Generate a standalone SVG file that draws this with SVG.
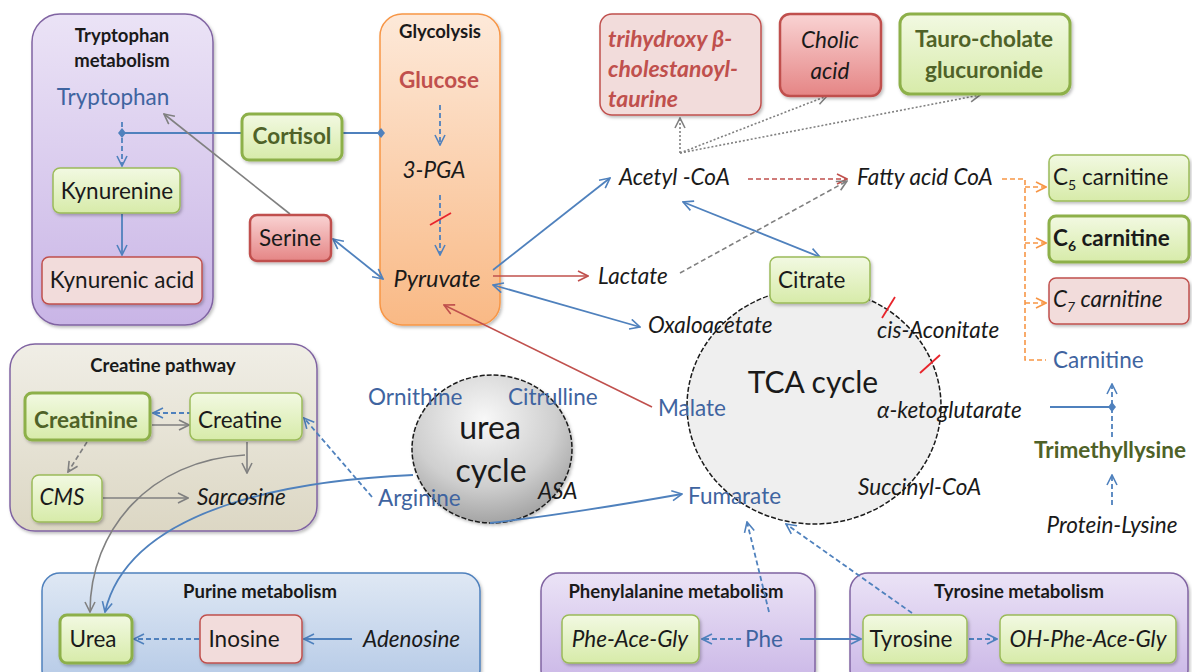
<svg xmlns="http://www.w3.org/2000/svg" width="1192" height="672" viewBox="0 0 1192 672">
<defs>
<linearGradient id="gGreen" x1="0" y1="0" x2="0" y2="1"><stop offset="0" stop-color="#f2f9e2"/><stop offset="1" stop-color="#d7eba9"/></linearGradient>
<linearGradient id="gRed" x1="0" y1="0" x2="0" y2="1"><stop offset="0" stop-color="#f9d3d3"/><stop offset="1" stop-color="#e58585"/></linearGradient>
<linearGradient id="gPurple" x1="0" y1="0" x2="0" y2="1"><stop offset="0" stop-color="#ebe3f6"/><stop offset="1" stop-color="#c9b5e6"/></linearGradient>
<linearGradient id="gOrange" x1="0" y1="0" x2="0" y2="1"><stop offset="0" stop-color="#fde9d9"/><stop offset="1" stop-color="#f9b985"/></linearGradient>
<linearGradient id="gBeige" x1="0" y1="0" x2="0" y2="1"><stop offset="0" stop-color="#f0eee6"/><stop offset="1" stop-color="#dcd7c4"/></linearGradient>
<linearGradient id="gBlue" x1="0" y1="0" x2="0" y2="1"><stop offset="0" stop-color="#dfe8f4"/><stop offset="1" stop-color="#b4c9e6"/></linearGradient>
<radialGradient id="gUrea" cx="0.45" cy="0.3" r="0.75"><stop offset="0" stop-color="#f8f8f8"/><stop offset="0.6" stop-color="#cfcfcf"/><stop offset="1" stop-color="#9c9c9c"/></radialGradient>
<filter id="sh" x="-20%" y="-20%" width="140%" height="140%"><feDropShadow dx="1.5" dy="2" stdDeviation="1.5" flood-color="#000" flood-opacity="0.25"/></filter>
<marker id="aB" viewBox="0 0 12 12" refX="11" refY="6" markerWidth="12" markerHeight="12" markerUnits="userSpaceOnUse" orient="auto-start-reverse"><path d="M1,1 L11,6 L1,11" fill="none" stroke="#4f81bd" stroke-width="1.6"/></marker>
<marker id="aG" viewBox="0 0 12 12" refX="11" refY="6" markerWidth="12" markerHeight="12" markerUnits="userSpaceOnUse" orient="auto-start-reverse"><path d="M1,1 L11,6 L1,11" fill="none" stroke="#808080" stroke-width="1.6"/></marker>
<marker id="aR" viewBox="0 0 12 12" refX="11" refY="6" markerWidth="12" markerHeight="12" markerUnits="userSpaceOnUse" orient="auto-start-reverse"><path d="M1,1 L11,6 L1,11" fill="none" stroke="#c0504d" stroke-width="1.6"/></marker>
<marker id="aO" viewBox="0 0 12 12" refX="11" refY="6" markerWidth="12" markerHeight="12" markerUnits="userSpaceOnUse" orient="auto-start-reverse"><path d="M1,1 L11,6 L1,11" fill="none" stroke="#f79646" stroke-width="1.6"/></marker>
</defs>
<style>
text{font-family:Lato,"Liberation Sans",sans-serif;font-size:22.5px;fill:#1a1a1a}
.m{text-anchor:middle}
.it{font-style:italic}
.b{font-weight:bold}
.bl{fill:#3f64a0}
.gt{fill:#4f6228;font-weight:bold}
.rt{fill:#c0504d}
.ttl{font-size:18.5px;font-weight:bold}
.grn{fill:url(#gGreen);stroke:#9bbb59;stroke-width:1.5;filter:url(#sh)}
.grn2{fill:url(#gGreen);stroke:#8db04a;stroke-width:3;filter:url(#sh)}
.pnk{fill:#f2dcdb;stroke:#c0504d;stroke-width:1.5;filter:url(#sh)}
.red{fill:url(#gRed);stroke:#c0504d;stroke-width:2.5;filter:url(#sh)}
.cb{stroke:#4f81bd;stroke-width:1.8;fill:none}
.cg{stroke:#808080;stroke-width:1.6;fill:none}
.cr{stroke:#c0504d;stroke-width:1.6;fill:none}
.co{stroke:#f79646;stroke-width:1.6;fill:none}
.d{stroke-dasharray:5 3}
.dt{stroke-dasharray:2 2}
.slash{stroke:#e8242b;stroke-width:1.8}
.dia{fill:#4f81bd}
</style>

<!-- pathway containers -->
<g id="tryptophan-metabolism">
<rect x="32" y="14" width="181" height="311" rx="28" fill="url(#gPurple)" stroke="#8064a2" stroke-width="1.5" filter="url(#sh)"/>
<text class="ttl m" x="122" y="42">Tryptophan</text>
<text class="ttl m" x="122" y="67">metabolism</text>
</g>
<g id="glycolysis">
<rect x="380" y="14" width="120" height="311" rx="22" fill="url(#gOrange)" stroke="#f79646" stroke-width="1.5" filter="url(#sh)"/>
<text class="ttl m" x="440" y="38">Glycolysis</text>
</g>
<g id="creatine-pathway">
<rect x="10" y="344" width="307" height="187" rx="25" fill="url(#gBeige)" stroke="#8064a2" stroke-width="1.5" filter="url(#sh)"/>
<text class="ttl m" x="163" y="372">Creatine pathway</text>
</g>
<g id="purine-metabolism">
<rect x="42" y="573" width="438" height="115" rx="18" fill="url(#gBlue)" stroke="#4f81bd" stroke-width="1.5" filter="url(#sh)"/>
<text class="ttl m" x="260" y="598">Purine metabolism</text>
</g>
<g id="phenylalanine-metabolism">
<rect x="541" y="573" width="274" height="115" rx="18" fill="url(#gPurple)" stroke="#8064a2" stroke-width="1.5" filter="url(#sh)"/>
<text class="ttl m" x="676" y="598">Phenylalanine metabolism</text>
</g>
<g id="tyrosine-metabolism">
<rect x="850" y="573" width="338" height="115" rx="18" fill="url(#gPurple)" stroke="#8064a2" stroke-width="1.5" filter="url(#sh)"/>
<text class="ttl m" x="1019" y="598">Tyrosine metabolism</text>
</g>

<!-- cycles -->
<g id="tca-cycle">
<ellipse cx="814" cy="406" rx="127" ry="118" fill="#efefef" stroke="#1a1a1a" stroke-width="1.5" stroke-dasharray="5 2"/>
<text class="m" x="813" y="393" style="font-size:30px">TCA cycle</text>
</g>
<g id="urea-cycle">
<ellipse cx="492" cy="449" rx="80" ry="74" fill="url(#gUrea)" stroke="#1a1a1a" stroke-width="1.5" stroke-dasharray="5 2" filter="url(#sh)"/>
<text class="m" x="490" y="439" style="font-size:32px">urea</text>
<text class="m" x="491" y="482" style="font-size:32px">cycle</text>
</g>

<!-- connectors -->
<g id="connectors">
<line class="cb d" x1="122" y1="122" x2="122" y2="166" marker-end="url(#aB)"/>
<line class="cb" x1="242" y1="133" x2="122" y2="133"/>
<polygon class="dia" points="122,128 126,133 122,138 118,133"/>
<line class="cb" x1="343" y1="133" x2="381" y2="133"/>
<polygon class="dia" points="381,128 385,133 381,138 377,133"/>
<line class="cb" x1="122" y1="214" x2="122" y2="255" marker-end="url(#aB)"/>
<line class="cg" x1="290" y1="214" x2="164" y2="114" marker-end="url(#aG)"/>
<line class="cb" x1="333" y1="239" x2="383" y2="279" marker-start="url(#aB)" marker-end="url(#aB)"/>
<line class="cb d" x1="440" y1="105" x2="440" y2="145" marker-end="url(#aB)"/>
<line class="cb d" x1="440" y1="195" x2="440" y2="255" marker-end="url(#aB)"/>
<line class="slash" x1="430" y1="225" x2="451" y2="213"/>
<line class="cb" x1="493" y1="270" x2="610" y2="178" marker-end="url(#aB)"/>
<line class="cr" x1="493" y1="276" x2="588" y2="276" marker-end="url(#aR)"/>
<line class="cb" x1="493" y1="285" x2="640" y2="327" marker-start="url(#aB)" marker-end="url(#aB)"/>
<line class="cr" x1="652" y1="407" x2="444" y2="305" marker-end="url(#aR)"/>
<line class="cb" x1="683" y1="202" x2="820" y2="257" marker-start="url(#aB)" marker-end="url(#aB)"/>
<line class="cr d" x1="748" y1="179" x2="847" y2="179" marker-end="url(#aR)"/>
<line class="cg d" x1="680" y1="273" x2="847" y2="181" marker-end="url(#aG)"/>
<line class="cg dt" x1="680" y1="153" x2="680" y2="118" marker-end="url(#aG)"/>
<line class="cg dt" x1="680" y1="153" x2="827" y2="96" marker-end="url(#aG)"/>
<line class="cg dt" x1="680" y1="153" x2="980" y2="95" marker-end="url(#aG)"/>
<path class="co d" d="M1002,179 H1025 V360 H1046"/>
<line class="co d" x1="1025" y1="187" x2="1046" y2="187" marker-end="url(#aO)"/>
<line class="co d" x1="1025" y1="243" x2="1046" y2="243" marker-end="url(#aO)"/>
<line class="co d" x1="1025" y1="303" x2="1046" y2="303" marker-end="url(#aO)"/>
<line class="cb" x1="1050" y1="407" x2="1112" y2="407"/>
<line class="cb d" x1="1112" y1="437" x2="1112" y2="384" marker-end="url(#aB)"/>
<polygon class="dia" points="1112,402 1116,407 1112,412 1108,407"/>
<line class="cb d" x1="1112" y1="505" x2="1112" y2="475" marker-end="url(#aB)"/>
<line class="slash" x1="882" y1="318" x2="895" y2="297"/>
<line class="slash" x1="920" y1="373" x2="940" y2="355"/>
<line class="cb d" x1="192" y1="413" x2="153" y2="413" marker-end="url(#aB)"/>
<line class="cg" x1="152" y1="425" x2="189" y2="425" marker-end="url(#aG)"/>
<line class="cg d" x1="87" y1="442" x2="68" y2="472" marker-end="url(#aG)"/>
<line class="cg" x1="103" y1="498" x2="188" y2="498" marker-end="url(#aG)"/>
<line class="cg" x1="247" y1="442" x2="247" y2="473" marker-end="url(#aG)"/>
<line class="cb d" x1="372" y1="497" x2="304" y2="418" marker-end="url(#aB)"/>
<path class="cg" d="M245,455 C150,460 90,530 90,612" marker-end="url(#aG)"/>
<path class="cb" d="M413,475 C300,480 130,505 105,612" marker-end="url(#aB)"/>
<path class="cb" d="M490,523 C560,515 620,505 682,494" marker-end="url(#aB)"/>
<line class="cb" x1="352" y1="639" x2="304" y2="639" marker-end="url(#aB)"/>
<line class="cb d" x1="199" y1="639" x2="134" y2="639" marker-end="url(#aB)"/>
<line class="cb d" x1="741" y1="639" x2="702" y2="639" marker-end="url(#aB)"/>
<line class="cb" x1="800" y1="639" x2="861" y2="639" marker-end="url(#aB)"/>
<line class="cb d" x1="969" y1="639" x2="997" y2="639" marker-end="url(#aB)"/>
<line class="cb d" x1="769" y1="612" x2="747" y2="522" marker-end="url(#aB)"/>
<line class="cb d" x1="912" y1="613" x2="786" y2="524" marker-end="url(#aB)"/>
</g>

<!-- nodes -->
<g id="tryptophan"><text class="m bl" x="113" y="105">Tryptophan</text></g>
<g id="kynurenine"><rect class="grn" x="53" y="168" width="127" height="45" rx="7"/><text class="m" x="117" y="199">Kynurenine</text></g>
<g id="kynurenic-acid"><rect class="pnk" x="42" y="257" width="160" height="47" rx="7"/><text class="m" x="122" y="288">Kynurenic acid</text></g>
<g id="cortisol"><rect class="grn2" x="242" y="114" width="100" height="46" rx="7"/><text class="m gt" x="292" y="144">Cortisol</text></g>
<g id="serine"><rect class="red" x="250" y="215" width="81" height="46" rx="7"/><text class="m" x="290" y="246">Serine</text></g>
<g id="glucose"><text class="m b rt" x="439" y="88">Glucose</text></g>
<g id="pga"><text class="m it" x="434" y="178">3-PGA</text></g>
<g id="pyruvate"><text class="m it" x="437" y="287" style="font-size:23.5px">Pyruvate</text></g>
<g id="trihydroxy"><rect class="pnk" x="600" y="14" width="161" height="101" rx="12"/>
<text class="it b rt" x="608" y="47" style="font-size:23px">trihydroxy β-</text>
<text class="it b rt" x="608" y="77" style="font-size:23px">cholestanoyl-</text>
<text class="it b rt" x="608" y="107" style="font-size:23px">taurine</text></g>
<g id="cholic-acid"><rect class="red" x="780" y="14" width="101" height="82" rx="10"/>
<text class="m it" x="830" y="48">Cholic</text><text class="m it" x="830" y="79">acid</text></g>
<g id="tauro-cholate"><rect class="grn2" x="900" y="14" width="170" height="80" rx="10"/>
<text class="m gt" x="984" y="47">Tauro-cholate</text><text class="m gt" x="984" y="78">glucuronide</text></g>
<g id="acetyl-coa"><text class="it" x="619" y="185">Acetyl -CoA</text></g>
<g id="fatty-acid-coa"><text class="it" x="857" y="185">Fatty acid CoA</text></g>
<g id="lactate"><text class="it" x="598" y="284">Lactate</text></g>
<g id="oxaloacetate"><text class="it" x="648" y="333">Oxaloacetate</text></g>
<g id="citrate"><rect class="grn" x="770" y="257" width="100" height="46" rx="7"/><text x="778" y="288">Citrate</text></g>
<g id="cis-aconitate"><text class="it" x="877" y="338">cis-Aconitate</text></g>
<g id="alpha-ketoglutarate"><text class="it" x="877" y="418">α-ketoglutarate</text></g>
<g id="succinyl-coa"><text class="it" x="858" y="495">Succinyl-CoA</text></g>
<g id="malate"><text class="bl" x="658" y="416">Malate</text></g>
<g id="fumarate"><text class="bl" x="688" y="504">Fumarate</text></g>
<g id="c5-carnitine"><rect class="grn" x="1049" y="155" width="140" height="46" rx="7"/><text x="1053" y="185">C<tspan style="font-size:14px" dy="5">5</tspan><tspan dy="-5"> carnitine</tspan></text></g>
<g id="c6-carnitine"><rect class="grn2" x="1049" y="216" width="140" height="46" rx="7"/><text class="b" x="1053" y="246">C<tspan style="font-size:14px" dy="5">6</tspan><tspan dy="-5"> carnitine</tspan></text></g>
<g id="c7-carnitine"><rect class="pnk" x="1049" y="278" width="140" height="46" rx="7"/><text class="it" x="1053" y="307">C<tspan style="font-size:14px" dy="5">7</tspan><tspan dy="-5"> carnitine</tspan></text></g>
<g id="carnitine"><text class="bl" x="1053" y="368">Carnitine</text></g>
<g id="trimethyllysine"><text class="m gt" x="1110" y="458">Trimethyllysine</text></g>
<g id="protein-lysine"><text class="m it" x="1112" y="533">Protein-Lysine</text></g>
<g id="creatinine"><rect class="grn2" x="25" y="393" width="125" height="47" rx="7"/><text class="m gt" x="86" y="428">Creatinine</text></g>
<g id="creatine"><rect class="grn" x="190" y="393" width="112" height="47" rx="7"/><text class="m" x="240" y="428">Creatine</text></g>
<g id="cms"><rect class="grn" x="32" y="475" width="70" height="47" rx="7"/><text class="m it" x="62" y="505">CMS</text></g>
<g id="sarcosine"><text class="it" x="197" y="505">Sarcosine</text></g>
<g id="ornithine"><text class="bl" x="368" y="405">Ornithine</text></g>
<g id="citrulline"><text class="bl" x="508" y="405">Citrulline</text></g>
<g id="arginine"><text class="bl" x="378" y="506">Arginine</text></g>
<g id="asa"><text class="it" x="538" y="499">ASA</text></g>
<g id="urea"><rect class="grn2" x="60" y="615" width="72" height="48" rx="7"/><text class="m" x="93" y="647">Urea</text></g>
<g id="inosine"><rect class="pnk" x="200" y="615" width="102" height="48" rx="7"/><text class="m" x="244" y="647">Inosine</text></g>
<g id="adenosine"><text class="it" x="363" y="647">Adenosine</text></g>
<g id="phe-ace-gly"><rect class="grn" x="562" y="615" width="137" height="48" rx="7"/><text class="m it" x="630" y="647">Phe-Ace-Gly</text></g>
<g id="phe"><text class="bl" x="745" y="647">Phe</text></g>
<g id="tyrosine"><rect class="grn" x="863" y="615" width="104" height="48" rx="7"/><text class="m" x="911" y="647">Tyrosine</text></g>
<g id="oh-phe-ace-gly"><rect class="grn" x="1000" y="615" width="176" height="48" rx="7"/><text class="m it" x="1088" y="647">OH-Phe-Ace-Gly</text></g>
</svg>
